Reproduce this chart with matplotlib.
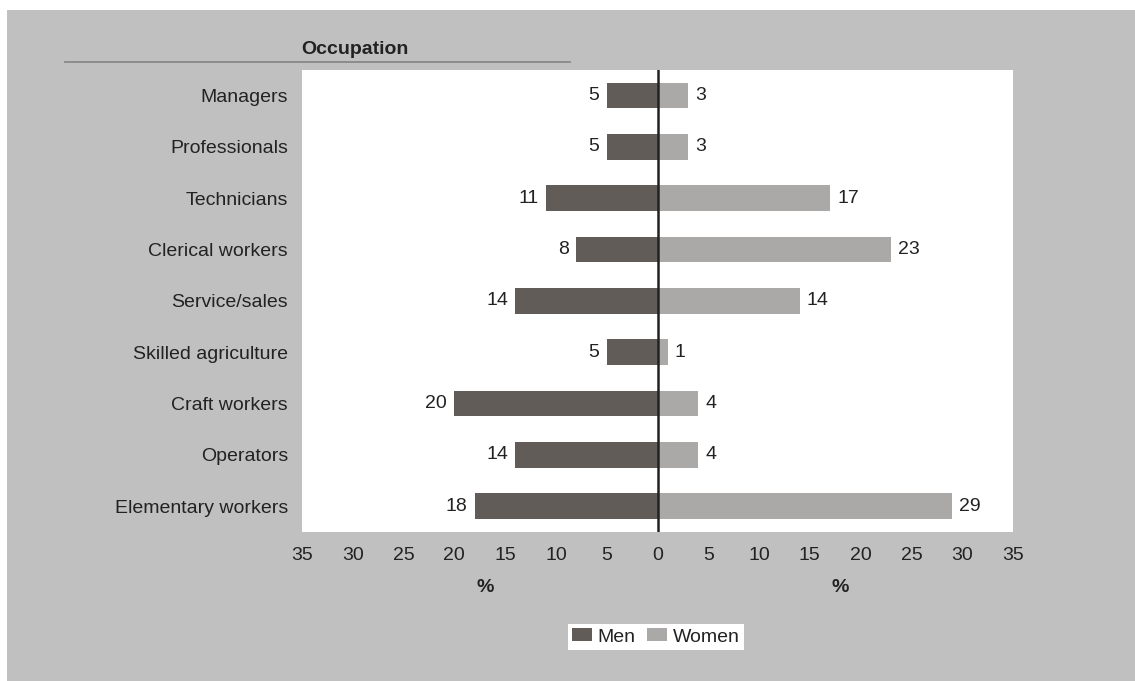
import matplotlib.pyplot as plt
from matplotlib.patches import Rectangle, Patch
from matplotlib.lines import Line2D

plt.rcParams['font.family'] = ['Liberation Sans', 'DejaVu Sans']

occupations = ["Managers", "Professionals", "Technicians", "Clerical workers",
               "Service/sales", "Skilled agriculture", "Craft workers",
               "Operators", "Elementary workers"]
men = [5, 5, 11, 8, 14, 5, 20, 14, 18]
women = [3, 3, 17, 23, 14, 1, 4, 4, 29]
xticks = [-35, -30, -25, -20, -15, -10, -5, 0, 5, 10, 15, 20, 25, 30, 35]

MEN_COLOR = '#625c58'
WOMEN_COLOR = '#aaa9a7'
BG = '#c0c0c0'
TXT = '#222222'
FS = 14

W, H = 1135, 681
fig = plt.figure(figsize=(W / 100, H / 100), dpi=100, facecolor='white')
fig.patches.append(Rectangle((7 / W, 0), 1 - 7 / W, (H - 10) / H,
                             transform=fig.transFigure, facecolor=BG,
                             edgecolor='none', zorder=-10))

ax = fig.add_axes([302 / W, (H - 532) / H, 711 / W, 462 / H])
ax.set_facecolor('white')

y = list(range(len(occupations)))
ax.barh(y, [-m for m in men], height=0.5, color=MEN_COLOR)
ax.barh(y, women, height=0.5, color=WOMEN_COLOR)
ax.axvline(0, color=TXT, linewidth=1.8, zorder=5)

for i in y:
    ax.text(-men[i] - 0.7, i, str(men[i]), ha='right', va='center',
            fontsize=FS, color=TXT)
    ax.text(women[i] + 0.7, i, str(women[i]), ha='left', va='center',
            fontsize=FS, color=TXT)

ax.set_xlim(-35, 35)
ax.set_ylim(len(occupations) - 0.5, -0.5)
ax.set_xticks(xticks)
ax.set_xticklabels([str(abs(t)) for t in xticks], fontsize=FS, color=TXT)
ax.set_yticks(y)
ax.set_yticklabels(occupations, fontsize=FS, color=TXT)
ax.tick_params(axis='x', length=0, pad=11)
ax.tick_params(axis='y', length=0, pad=10)
for s in ax.spines.values():
    s.set_visible(False)

# axis captions
fig.text(355 / W, 1 - 50 / H, "Occupation", ha='center', va='center',
         fontsize=FS, fontweight='bold', color=TXT)
fig.add_artist(Line2D([65 / W, 570 / W], [1 - 62 / H, 1 - 62 / H],
                      transform=fig.transFigure, color='#888888', linewidth=1.3))
fig.text(485 / W, 1 - 587 / H, "%", ha='center', va='center',
         fontsize=FS, fontweight='bold', color=TXT)
fig.text(840 / W, 1 - 587 / H, "%", ha='center', va='center',
         fontsize=FS, fontweight='bold', color=TXT)

handles = [Patch(facecolor=MEN_COLOR, label='Men'),
           Patch(facecolor=WOMEN_COLOR, label='Women')]
leg = fig.legend(handles=handles, loc='center', bbox_to_anchor=(656 / W, 1 - 637 / H),
                 ncol=2, frameon=True, fancybox=False, fontsize=FS,
                 handlelength=1.0, handleheight=0.6, handletextpad=0.3,
                 columnspacing=0.6, borderpad=0.25, borderaxespad=0)
leg.get_frame().set_facecolor('white')
leg.get_frame().set_edgecolor('none')
leg.get_frame().set_alpha(1)
for t in leg.get_texts():
    t.set_color(TXT)

fig.savefig('out.png', dpi=100, facecolor=fig.get_facecolor())
